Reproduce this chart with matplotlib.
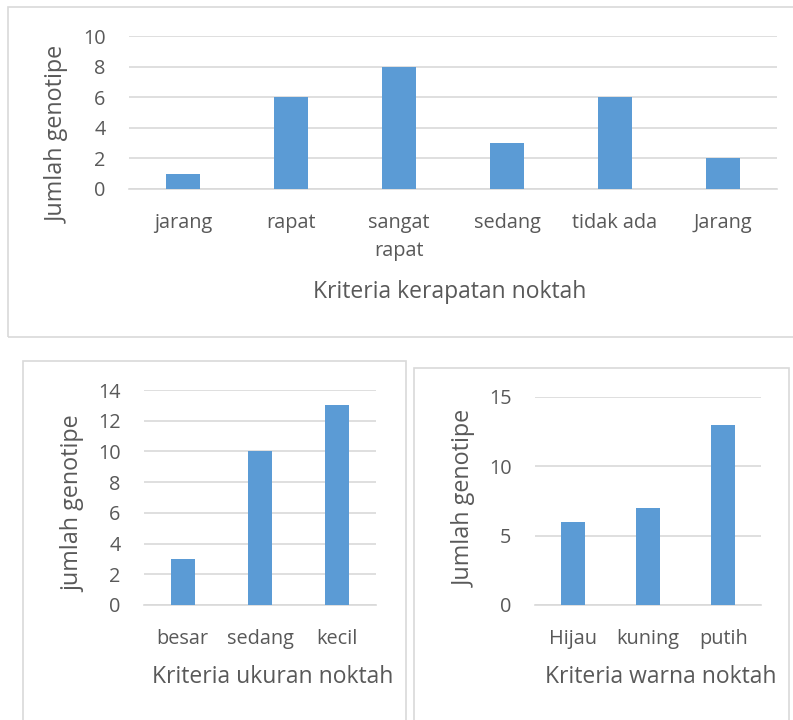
import matplotlib
matplotlib.use("Agg")
import matplotlib.pyplot as plt
from matplotlib.patches import Rectangle

plt.rcParams["font.family"] = ["Open Sans", "DejaVu Sans"]

# data
kerapatan_labels = ["jarang", "rapat", "sangat\nrapat", "sedang", "tidak ada", "Jarang"]
kerapatan_values = [1, 6, 8, 3, 6, 2]

ukuran_labels = ["besar", "sedang", "kecil"]
ukuran_values = [3, 10, 13]

warna_labels = ["Hijau", "kuning", "putih"]
warna_values = [6, 7, 13]

BAR = "#5B9BD5"
GRID = "#D9D9D9"
TXT = "#595959"
W, H = 793, 720

fig = plt.figure(figsize=(W / 100, H / 100), dpi=100)
fig.patch.set_facecolor("white")


def px_axes(x0, x1, y0, y1):
    # pixel box (top-left origin) -> figure axes
    ax = fig.add_axes([x0 / W, 1 - y1 / H, (x1 - x0) / W, (y1 - y0) / H])
    ax.px = (x0, x1, y0, y1)
    return ax


def frame(x0, x1, y0, y1):
    fig.patches.append(Rectangle((x0 / W, 1 - y1 / H), (x1 - x0) / W, (y1 - y0) / H,
                                 transform=fig.transFigure, fill=False,
                                 edgecolor=GRID, lw=1.2))


def bar_chart(ax, labels, values, ymax, step, ylabel, xlabel, width, ylab_xy, xlab_xy):
    x = range(len(values))
    ax.bar(x, values, width=width, color=BAR, zorder=3)
    ax.set_xlim(-0.5, len(values) - 0.5)
    ax.set_ylim(0, ymax)
    ax.set_yticks(range(0, ymax + 1, step))
    ax.set_xticks(list(x))
    ax.set_xticklabels(labels, linespacing=1.55, va="top")
    ax.grid(axis="y", color=GRID, lw=1.2, zorder=0)
    for s in ["top", "right", "left"]:
        ax.spines[s].set_visible(False)
    ax.spines["bottom"].set_color(GRID)
    ax.spines["bottom"].set_linewidth(1.2)
    ax.tick_params(length=0, colors=TXT, labelsize=14.3)
    ax.tick_params(axis="x", pad=17)
    ax.tick_params(axis="y", pad=17)

    # axis titles placed at pixel centres
    x0, x1, y0, y1 = ax.px
    ax.set_ylabel(ylabel, color=TXT, fontsize=16.8)
    ax.yaxis.label.set_va("center")
    ax.yaxis.set_label_coords((ylab_xy[0] - x0) / (x1 - x0),
                              (y1 - ylab_xy[1]) / (y1 - y0))
    ax.set_xlabel(xlabel, color=TXT, fontsize=16.5)
    ax.xaxis.label.set_va("center")
    ax.xaxis.set_label_coords((xlab_xy[0] - x0) / (x1 - x0),
                              (y1 - xlab_xy[1]) / (y1 - y0))


frame(8, 800, 7, 337)
frame(23, 406, 361, 730)
frame(414, 789, 368, 730)

ax1 = px_axes(129, 777, 36, 189)
bar_chart(ax1, kerapatan_labels, kerapatan_values, 10, 2,
          "Jumlah genotipe", "Kriteria kerapatan noktah", 0.32, (58, 134), (450, 292))

ax2 = px_axes(144, 376, 390, 605)
bar_chart(ax2, ukuran_labels, ukuran_values, 14, 2,
          "jumlah genotipe", "Kriteria ukuran noktah", 0.31, (73, 504), (273, 677))

ax3 = px_axes(535, 761, 397, 605)
bar_chart(ax3, warna_labels, warna_values, 15, 5,
          "Jumlah genotipe", "Kriteria warna noktah", 0.32, (465, 498), (661, 677))

fig.savefig("out.png", dpi=100, facecolor="white")
